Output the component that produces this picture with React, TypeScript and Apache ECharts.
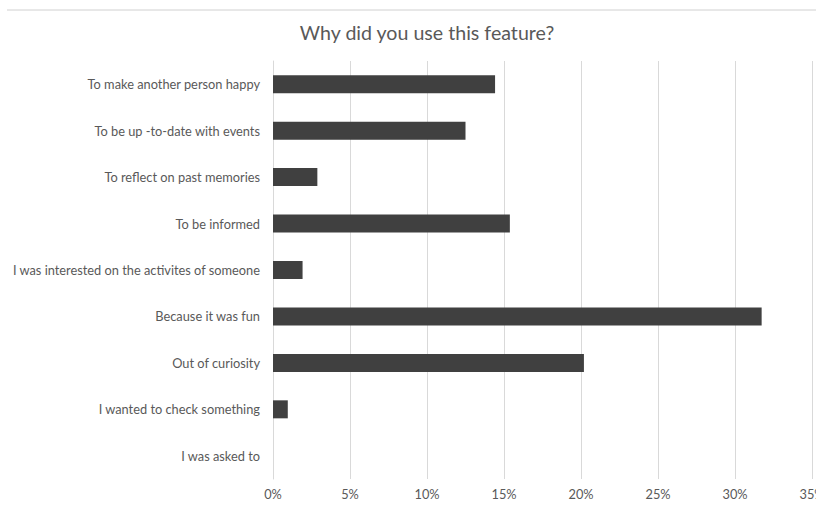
import React, { useEffect, useRef } from "react";
import * as echarts from "echarts";

const categories = [
  "To make another person happy",
  "To be up -to-date with events",
  "To reflect on past memories",
  "To be informed",
  "I was interested on the activites of someone",
  "Because it was fun",
  "Out of curiosity",
  "I wanted to check something",
  "I was asked to",
];
const shares = [14.42, 12.5, 2.88, 15.38, 1.92, 31.73, 20.19, 0.96, 0];
const axisMax = 35;
const axisStep = 5;
const titleText = "Why did you use this feature?";

const FONT = "Lato, 'Open Sans', sans-serif";

export default function App() {
  const ref = useRef<HTMLDivElement>(null);
  useEffect(() => {
    if (!ref.current) return;
    const chart = echarts.init(ref.current, null, { renderer: "svg" });
    chart.setOption({
      animation: false,
      backgroundColor: "#ffffff",
      title: {
        text: titleText,
        left: 422,
        top: 17,
        textAlign: "center",
        textStyle: { color: "#595959", fontSize: 19.6, fontWeight: "normal", fontFamily: FONT },
      },
      graphic: [
        {
          type: "line",
          shape: { x1: 7, y1: 10, x2: 816, y2: 10 },
          style: { stroke: "#d0d0d0", lineWidth: 1 },
        },
      ],
      grid: {
        left: 273,
        right: 4,
        top: 61,
        bottom: 27,
        containLabel: false,
        outerBoundsMode: "none",
      },
      xAxis: {
        type: "value",
        min: 0,
        max: axisMax,
        interval: axisStep,
        axisLine: { show: false },
        axisTick: { show: false },
        axisLabel: {
          formatter: "{value}%",
          color: "#595959",
          fontSize: 12.8,
          fontFamily: FONT,
          margin: 8,
        },
        splitLine: { show: true, lineStyle: { color: "#d9d9d9", width: 1 } },
      },
      yAxis: {
        type: "category",
        inverse: true,
        data: categories,
        axisLine: { show: true, lineStyle: { color: "#d9d9d9" } },
        axisTick: { show: false },
        axisLabel: {
          color: "#595959",
          fontSize: 12.8,
          fontFamily: FONT,
          margin: 13,
        },
      },
      series: [
        {
          type: "bar",
          data: shares,
          barWidth: 18,
          itemStyle: { color: "#404040" },
        },
      ],
    });
    return () => chart.dispose();
  }, []);
  return (
    <div
      ref={ref}
      style={{ position: "fixed", left: 0, top: 0, width: 816, height: 506 }}
    />
  );
}
